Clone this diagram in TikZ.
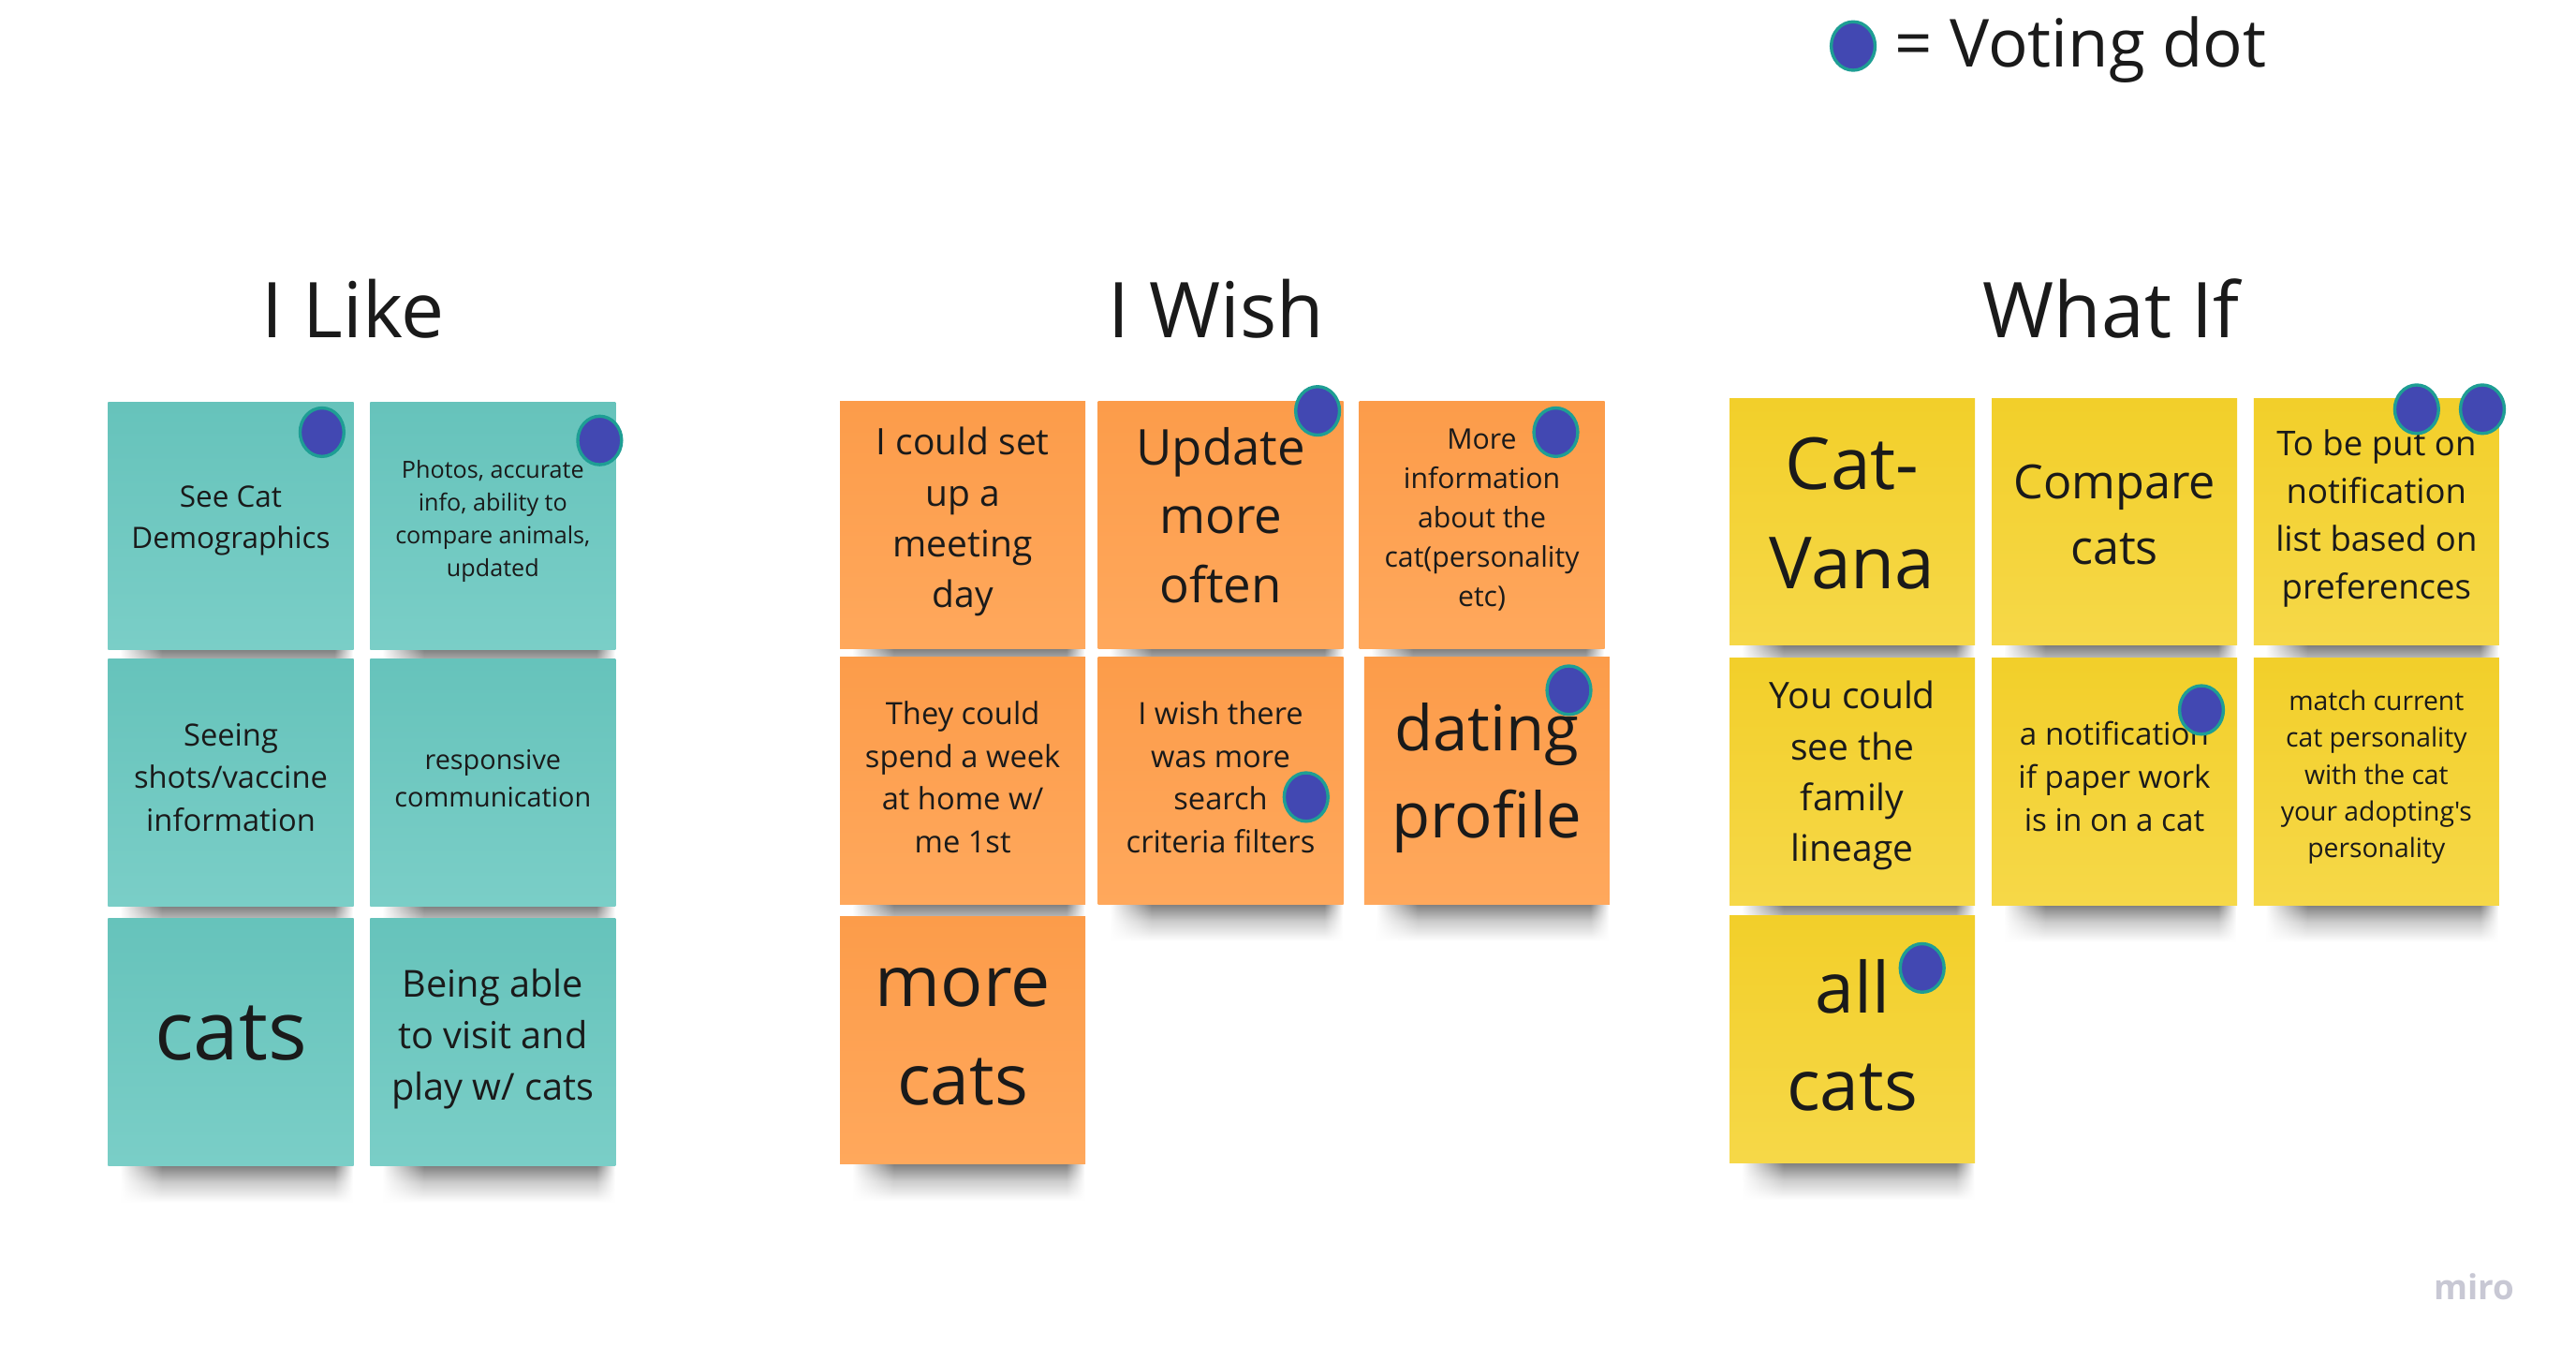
\documentclass[tikz,border=0pt]{standalone}
\usepackage{fontspec}
\setmainfont{Open Sans}[Ligatures=TeXOff]
\usetikzlibrary{calc,shapes.geometric,fadings,backgrounds}

\definecolor{ink}{RGB}{26,26,26}
\definecolor{tealTop}{RGB}{102,195,187}
\definecolor{tealBot}{RGB}{122,206,199}
\definecolor{orangeTop}{RGB}{252,156,74}
\definecolor{orangeBot}{RGB}{255,168,92}
\definecolor{yellowTop}{RGB}{242,207,42}
\definecolor{yellowBot}{RGB}{246,216,72}
\definecolor{dotFill}{RGB}{66,72,178}
\definecolor{dotRim}{RGB}{30,158,148}
\definecolor{logoGray}{RGB}{200,200,212}

% font size given in pixels of the drawing grid (1 unit = 0.5669pt)
\newcommand\fsz[1]{\pgfmathsetmacro\fszA{#1*0.5669}\pgfmathsetmacro\fszB{#1*0.5669*1.39}\fontsize{\fszA pt}{\fszB pt}\selectfont}

% horizontal fade for the shadow ends: white = opaque, black = transparent
\pgfdeclarehorizontalshading{shadowendsshade}{100bp}{color(0bp)=(black); color(25bp)=(black); color(34bp)=(white); color(71bp)=(white); color(75bp)=(black); color(100bp)=(black)}
\pgfdeclarefading{shadowends}{\pgfuseshading{shadowendsshade}}

\tikzset{
  sticky/.style={rectangle, inner sep=0pt, minimum width=85.0pt, minimum height=85.6pt,
    top color=#1Top, bottom color=#1Bot},
  txt/.style={align=center, text=ink, inner sep=0pt, font={\fsz{#1}}},
  title/.style={text=ink, inner sep=0pt, font={\fsz{47}}},
  vdot/.style={ellipse, fill=dotFill, draw=dotRim, line width=1.1pt,
    minimum width=15.2pt, minimum height=16.8pt, inner sep=0pt},
  shadowband/.style={top color=black!55, bottom color=white, middle color=black!20, path fading=shadowends},
}

\begin{document}
\begin{tikzpicture}[x=0.02cm, y=-0.02cm]
\useasboundingbox (0,0) rectangle (1568,828);

% legend
\node[vdot] (legdot) at (1128,28) {};
\node[text=ink, inner sep=0pt, anchor=west, font={\fsz{40.5}}] (legtxt) at (1153,30) {= Voting dot};

% column titles
\node[title] (tLike) at (215,188) {I Like};
\node[title] (tWish) at (740,188) {I Wish};
\node[title] (tWhat) at (1285,188) {What If};

% I Like
\node[sticky=teal] (l11) at (140.5,320) {};
\node[sticky=teal] (l12) at (300,320) {};
\node[sticky=teal] (l21) at (140.5,476) {};
\node[sticky=teal] (l22) at (300,476) {};
\node[sticky=teal] (l31) at (140.5,634) {};
\node[sticky=teal] (l32) at (300,634) {};
\node[txt=18] (l11t) at (140.5,317) {See Cat\\Demographics};
\node[txt=14.4] (l12t) at (300,317) {Photos, accurate\\info, ability to\\compare animals,\\updated};
\node[txt=18.7] (l21t) at (140.5,473) {Seeing\\shots/vaccine\\information};
\node[txt=16.5] (l22t) at (300,473.5) {responsive\\communication};
\node[txt=50] (l31t) at (140.5,629) {cats};
\node[txt=22.7] (l32t) at (300,632) {Being able\\to visit and\\play w/ cats};

% I Wish
\node[sticky=orange] (w11) at (586,319.5) {};
\node[sticky=orange] (w12) at (743,319.5) {};
\node[sticky=orange] (w13) at (902,319.5) {};
\node[sticky=orange] (w21) at (586,475) {};
\node[sticky=orange] (w22) at (743,475) {};
\node[sticky=orange] (w23) at (905,475) {};
\node[sticky=orange] (w31) at (586,633) {};
\node[txt=22.3] (w11t) at (586,317.5) {I could set\\up a\\meeting\\day};
\node[txt=30.2] (w12t) at (743,313.5) {Update\\more\\often};
\node[txt=17.3] (w13t) at (902,316.5) {More\\information\\about the\\cat(personality\\etc)};
\node[txt=18.7] (w21t) at (586,473) {They could\\spend a week\\at home w/\\me 1st};
\node[txt=18.7] (w22t) at (743,473) {I wish there\\was more\\search\\criteria filters};
\node[txt=38.4] (w23t) at (905,473.5) {dating\\profile};
\node[txt=43] (w31t) at (586,631) {more\\cats};

% What If
\node[sticky=yellow] (f11) at (1127.5,317.5) {};
\node[sticky=yellow] (f12) at (1287,317.5) {};
\node[sticky=yellow] (f13) at (1446.5,317.5) {};
\node[sticky=yellow] (f21) at (1127.5,475.5) {};
\node[sticky=yellow] (f22) at (1287,475.5) {};
\node[sticky=yellow] (f23) at (1446.5,475.5) {};
\node[sticky=yellow] (f31) at (1127.5,632.5) {};
\node[txt=43.9] (f11t) at (1127.5,312.5) {Cat-\\Vana};
\node[txt=28.8] (f12t) at (1287,313) {Compare\\cats};
\node[txt=20.9] (f13t) at (1446.5,315.5) {To be put on\\notification\\list based on\\preferences};
\node[txt=22.3] (f21t) at (1127.5,472) {You could\\see the\\family\\lineage};
\node[txt=19] (f22t) at (1287,472.5) {a notification\\if paper work\\is in on a cat};
\node[txt=16.2] (f23t) at (1446.5,473) {match current\\cat personality\\with the cat\\your adopting's\\personality};
\node[txt=43] (f31t) at (1127.5,630) {all\\cats};

% white board and soft shadows under every sticky note
\begin{scope}[on background layer]
\fill[white] (0,0) rectangle (1568,828);
\foreach \n in {l11,l12,l21,l22,l31,l32,w11,w12,w13,w21,w22,w23,w31,f11,f12,f13,f21,f22,f23,f31}{
  \shade[shadowband] ($(\n.south west)+(8,-2)$) rectangle ($(\n.south east)+(-1,22)$);
}
\end{scope}

% voting dots
\node[vdot] (v1) at (196,263) {};
\node[vdot] (v2) at (365,268) {};
\node[vdot] (v3) at (802,250) {};
\node[vdot] (v4) at (947,263) {};
\node[vdot] (v5) at (955,420) {};
\node[vdot] (v6) at (795,485) {};
\node[vdot] (v7) at (1471,249) {};
\node[vdot] (v8) at (1511,249) {};
\node[vdot] (v9) at (1340,432) {};
\node[vdot] (v10) at (1170,589) {};

% board watermark
\node[text=logoGray, inner sep=0pt, font={\fsz{21}\bfseries}] (logo) at (1506,783) {miro};
\end{tikzpicture}
\end{document}
